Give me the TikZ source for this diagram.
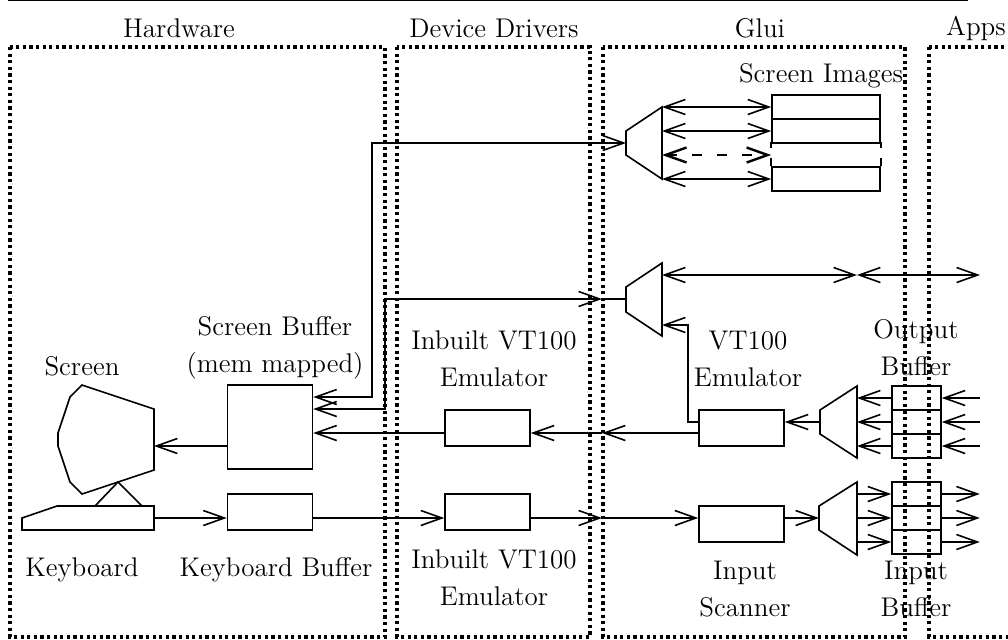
\documentclass[tikz,border=0pt]{standalone}
\usetikzlibrary{arrows.meta}

\tikzset{
  >={Straight Barb[length=10.5pt,width=7.5pt]},
  every path/.style={line width=0.8pt},
  frame/.style={line width=1.6pt,dash pattern=on 1.6pt off 1.7pt},
  box/.style={draw,inner sep=0pt,minimum width=42.5pt},
  lbl/.style={align=center,font=\fontsize{13.5}{18.5}\selectfont},
}

\begin{document}
\begin{tikzpicture}[x=0.5pt,y=-0.5pt]
\useasboundingbox (0,0) rectangle (1008,639);

% top rule and the four regions
\draw (8,0.5) -- (968,0.5);
\draw[frame] (10,47) rectangle (385,637);
\draw[frame] (397,47) rectangle (590,637);
\draw[frame] (603,47) rectangle (905,637);
\draw[frame] (929,47) rectangle (1030,637);

\node[lbl] (hardware) at (179,28) {Hardware};
\node[lbl] (drivers) at (494,28) {Device Drivers};
\node[lbl] (glui) at (760,28) {Glui};
\node[lbl] (apps) at (976,28) {Apps};

% screen and keyboard
\draw (82,385) -- (70,397) -- (58,433) -- (58,446) -- (70,482) -- (82,494) -- (154,470) -- (154,409) -- cycle;
\draw (95,506) -- (118,482) -- (142,506);
\draw (22,518) -- (57,506) -- (154,506) -- (154,530) -- (22,530) -- cycle;
\coordinate (screen) at (154,446);
\coordinate (keyboard) at (154,518);
\node[lbl] (screenlbl) at (82,366) {Screen};
\node[lbl] (keyboardlbl) at (82,570) {Keyboard};

% buffers and emulators
\node[box,minimum height=42pt] (screenbuf) at (270,427) {};
\node[box,minimum height=18pt] (keybuf) at (270,512) {};
\node[box,minimum height=18pt] (inbuiltout) at (487.5,428) {};
\node[box,minimum height=18pt] (inbuiltin) at (487.5,512) {};
\node[box,minimum height=18pt] (vtout) at (741.5,428) {};
\node[box,minimum height=18pt] (scanner) at (741.5,524) {};

\node[lbl] (screenbuflbl) at (275,348) {Screen Buffer\\(mem mapped)};
\node[lbl] (keybuflbl) at (276,570) {Keyboard Buffer};
\node[lbl] (inbuiltoutlbl) at (494,359) {Inbuilt VT100\\Emulator};
\node[lbl] (inbuiltinlbl) at (494,578) {Inbuilt VT100\\Emulator};
\node[lbl] (vtoutlbl) at (748,359) {VT100\\Emulator};
\node[lbl] (scannerlbl) at (745,589) {Input\\Scanner};
\node[lbl] (imageslbl) at (821,76) {Screen Images};
\node[lbl] (outbuflbl) at (916,348) {Output\\Buffer};
\node[lbl] (inbuflbl) at (916,589) {Input\\Buffer};

% screen images
\node[box,minimum width=54pt,minimum height=12pt] (imgone) at (826,107) {};
\node[box,minimum width=54pt,minimum height=12pt] (imgtwo) at (826,131) {};
\node[minimum width=54pt,minimum height=12pt,inner sep=0pt] (imgdash) at (826,155) {};
\node[box,minimum width=54pt,minimum height=12pt] (imgfour) at (826,179) {};
\draw[dash pattern=on 3pt off 5pt on 4pt off 1pt] (imgdash.north west) -- (imgdash.south west);
\draw[dash pattern=on 3pt off 5pt on 4pt off 1pt] (imgdash.north east) -- (imgdash.south east);

% output and input buffers
\foreach \name/\y in {outa/398,outb/422,outc/446,ina/494,inb/518,inc/542}
  \node[box,minimum width=24.5pt,minimum height=12pt] (\name) at (916.5,\y) {};

% multiplexers
\draw (626,131) -- (662,107) coordinate (muxa) -- (662,179) -- (626,155) -- cycle;
\draw (626,287) -- (662,263) coordinate (muxb) -- (662,336) -- (626,312) -- cycle;
\draw (820,410) -- (857,386) coordinate (muxc) -- (857,458) -- (820,434) -- cycle;
\draw (819,506) -- (857,482) coordinate (muxd) -- (857,555) -- (819,530) -- cycle;
\coordinate (muxain) at (626,143);
\coordinate (muxbin) at (626,299);
\coordinate (muxbout) at (662,325);
\coordinate (muxcout) at (820,422);
\coordinate (muxdin) at (819,518);

% connectors
\draw[<->] (muxa |- imgone.west) -- (imgone.west);
\draw[<->] (muxa |- imgtwo.west) -- (imgtwo.west);
\draw[<->,dash pattern=on 5pt off 7.5pt,line width=1.2pt] (muxa |- imgdash.west) -- (imgdash.west);
\draw[<->] (muxa |- imgfour.west) -- (imgfour.west);

\coordinate (busa) at (372,397);
\coordinate (busb) at (385,409);
\draw[<->] (screenbuf.east |- busa) -- (busa) |- (muxain);
\coordinate (gluiin) at (602,299);
\draw[<->] (screenbuf.east |- busb) -- (busb) |- (gluiin);
\draw (gluiin) -- (muxbin);
\coordinate (appsend) at (980,275);
\coordinate (gluiedge) at (857,275);
\draw[<->] (muxb |- appsend) -- (gluiedge);
\draw[<->] (gluiedge) -- (appsend);

\draw[->] (screenbuf.west |- screen) -- (screen);
\draw[->] (keyboard) -- (keybuf.west |- keyboard);
\draw[->] (keybuf.east |- keyboard) -- (inbuiltin.west |- keyboard);
\coordinate (gluiedgein) at (602,518);
\draw[->] (inbuiltin.east |- keyboard) -- (gluiedgein);
\draw[->] (gluiedgein) -- (scanner.west |- keyboard);
\draw[->] (scanner.east |- keyboard) -- (muxdin);

\draw[->] (muxcout) -- (vtout.east |- muxcout);
\coordinate (vtup) at (688,422);
\draw[->] (vtout.west |- vtup) -- (vtup) |- (muxbout);
\coordinate (gluiout) at (602,433);
\draw[->] (vtout.west |- gluiout) -- (gluiout);
\draw[->] (gluiout) -- (inbuiltout.east |- gluiout);
\draw[->] (inbuiltout.west |- gluiout) -- (screenbuf.east |- gluiout);

\foreach \name in {outa,outb,outc} {
  \draw[->] (\name.west) -- (muxc |- \name.west);
  \draw[<-] (\name.east) -- ++(38,0);
}
\foreach \name in {ina,inb,inc} {
  \draw[->] (muxd |- \name.west) -- (\name.west);
  \draw[->] (\name.east) -- ++(38,0);
}

\end{tikzpicture}
\end{document}
